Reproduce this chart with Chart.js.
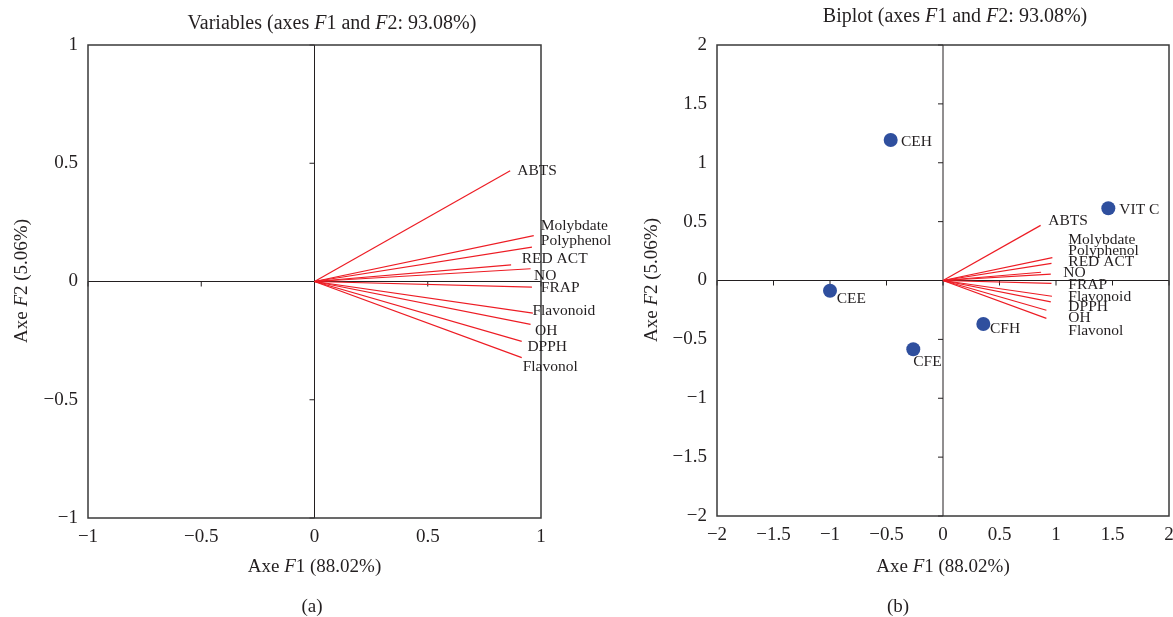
<!DOCTYPE html>
<html>
<head>
<meta charset="utf-8">
<script src="https://cdn.jsdelivr.net/npm/chart.js@4.4.1/dist/chart.umd.min.js"></script>
<style>
  html, body { margin: 0; padding: 0; background: #fff; overflow: hidden; }
  #wrap { position: relative; width: 1173px; height: 617px; overflow: hidden; }
  canvas { position: absolute; top: 0; }
  #leftChart { left: 0; }
  #rightChart { left: 580px; }
</style>
</head>
<body>
<div id="wrap">
  <canvas id="leftChart" width="640" height="617"></canvas>
  <canvas id="rightChart" width="600" height="617"></canvas>
</div>
<script>
// variable loadings on F1 / F2
const variableNames = ['ABTS', 'Molybdate', 'Polyphenol', 'RED ACT', 'NO', 'FRAP', 'Flavonoid', 'OH', 'DPPH', 'Flavonol'];
const f1Loadings = [0.864, 0.968, 0.960, 0.868, 0.954, 0.960, 0.964, 0.954, 0.915, 0.915];
const f2Loadings = [0.468, 0.194, 0.145, 0.070, 0.054, -0.024, -0.134, -0.181, -0.253, -0.322];

// observation scores on F1 / F2
const obsNames = ['CEH', 'VIT C', 'CEE', 'CFH', 'CFE'];
const obsF1 = [-0.463, 1.463, -1.00, 0.357, -0.263];
const obsF2 = [1.193, 0.613, -0.087, -0.369, -0.584];

// axis ticks
const leftTicks = [-1, -0.5, 0, 0.5, 1];
const rightTicks = [-2, -1.5, -1, -0.5, 0, 0.5, 1, 1.5, 2];

const SERIF = "'Liberation Serif', 'Times New Roman', serif";
const INK = '#231f20';
const RED = '#ed1c24';
const BLUE = '#2f4f9e';

// where the text labels sit (data units, left edge / middle of text)
const leftVarLabelPos = [
    [0.895, 0.468], [0.999, 0.236], [0.999, 0.173], [0.915, 0.094], [0.969, 0.025],
    [0.999, -0.029], [0.962, -0.125], [0.974, -0.208], [0.940, -0.276], [0.919, -0.363]
];
const rightVarLabelPos = [
    [0.932, 0.508], [1.109, 0.344], [1.109, 0.250], [1.109, 0.159], [1.065, 0.066],
    [1.109, -0.038], [1.109, -0.137], [1.109, -0.320], [1.109, -0.227], [1.109, -0.426]
];
const obsLabelPos = [
    [-0.372, 1.174], [1.560, 0.599], [-0.941, -0.157], [0.416, -0.414], [-0.263, -0.695]
];

function fmtTick(v) {
    if (v === 0) return '0';
    return (v < 0 ? '\u2212' : '') + Math.abs(v);
}

// text with italic pieces, centred on x
function drawRich(ctx, parts, x, y, size) {
    const widths = parts.map(p => {
        ctx.font = (p[1] ? 'italic ' : '') + size + 'px ' + SERIF;
        return ctx.measureText(p[0]).width;
    });
    let cx = x - widths.reduce((a, b) => a + b, 0) / 2;
    ctx.textAlign = 'left';
    ctx.textBaseline = 'middle';
    parts.forEach((p, i) => {
        ctx.font = (p[1] ? 'italic ' : '') + size + 'px ' + SERIF;
        ctx.fillText(p[0], cx, y);
        cx += widths[i];
    });
}

const pcaFrame = {
    id: 'pcaFrame',
    beforeDatasetsDraw(chart) {
        const { ctx, chartArea: a, scales: { x, y } } = chart;
        const x0 = x.getPixelForValue(0);
        const y0 = y.getPixelForValue(0);
        ctx.save();
        ctx.strokeStyle = INK;
        ctx.lineWidth = 1;
        ctx.beginPath();
        ctx.moveTo(x0, a.top); ctx.lineTo(x0, a.bottom);
        ctx.moveTo(a.left, y0); ctx.lineTo(a.right, y0);
        x.ticks.forEach(t => {
            const px = x.getPixelForValue(t.value);
            ctx.moveTo(px, y0); ctx.lineTo(px, y0 + 5);
        });
        y.ticks.forEach(t => {
            const py = y.getPixelForValue(t.value);
            ctx.moveTo(x0 - 5, py); ctx.lineTo(x0, py);
        });
        ctx.stroke();
        ctx.restore();
    },
    afterDatasetsDraw(chart, args, opts) {
        const { ctx, chartArea: a, scales: { x, y } } = chart;
        ctx.save();
        ctx.strokeStyle = '#3a3a3a';
        ctx.lineWidth = 1.5;
        ctx.strokeRect(a.left, a.top, a.width, a.height);

        ctx.fillStyle = INK;
        ctx.font = '15.5px ' + SERIF;
        ctx.textAlign = 'left';
        ctx.textBaseline = 'middle';
        (opts.labels || []).forEach(l => {
            ctx.fillText(l.text, x.getPixelForValue(l.x), y.getPixelForValue(l.y));
        });
        ctx.restore();
    },
    afterDraw(chart, args, opts) {
        const ctx = chart.ctx;
        ctx.save();
        ctx.fillStyle = INK;
        drawRich(ctx, opts.title.parts, opts.title.x, opts.title.y, 20);
        drawRich(ctx, opts.xTitle.parts, opts.xTitle.x, opts.xTitle.y, 19);
        drawRich(ctx, [[opts.caption.text, false]], opts.caption.x, opts.caption.y, 19);
        ctx.translate(opts.yTitle.x, opts.yTitle.y);
        ctx.rotate(-Math.PI / 2);
        drawRich(ctx, opts.yTitle.parts, 0, 0, 19);
        ctx.restore();
    }
};

function axisCfg(ticks, fitSize, isX) {
    return {
        type: 'linear',
        min: ticks[0],
        max: ticks[ticks.length - 1],
        grid: { display: false, drawTicks: false },
        border: { display: false },
        afterBuildTicks(s) { s.ticks = ticks.map(v => ({ value: v })); },
        ticks: {
            autoSkip: false,
            maxRotation: 0,
            padding: isX ? 8 : 10,
            color: INK,
            font: { family: SERIF, size: 19 },
            callback: v => fmtTick(v)
        },
        afterFit(s) {
            if (isX) s.height = fitSize; else s.width = fitSize;
            s.paddingLeft = 0; s.paddingRight = 0;
            s.paddingTop = 0; s.paddingBottom = 0;
        }
    };
}

function vectorSets() {
    return variableNames.map((name, i) => ({
        label: name,
        showLine: true,
        data: [{ x: 0, y: 0 }, { x: f1Loadings[i], y: f2Loadings[i] }],
        borderColor: RED,
        borderWidth: 1.2,
        pointRadius: 0,
        fill: false
    }));
}

const xTitleParts = [['Axe ', false], ['F', true], ['1 (88.02%)', false]];
const yTitleParts = [['Axe ', false], ['F', true], ['2 (5.06%)', false]];

function commonOptions(padRight) {
    return {
        responsive: false,
        animation: false,
        devicePixelRatio: 1,
        layout: { padding: { top: 45, right: padRight, bottom: 0, left: 0 } },
        plugins: { legend: { display: false }, tooltip: { enabled: false } },
        scales: {}
    };
}

// (a) variables
const leftOpts = commonOptions(99);
leftOpts.scales = { x: axisCfg(leftTicks, 99, true), y: axisCfg(leftTicks, 88, false) };
leftOpts.plugins.pcaFrame = {
    title: { parts: [['Variables (axes ', false], ['F', true], ['1 and ', false], ['F', true], ['2: 93.08%)', false]], x: 332, y: 24 },
    xTitle: { parts: xTitleParts, x: 314.5, y: 567 },
    yTitle: { parts: yTitleParts, x: 22, y: 281 },
    caption: { text: '(a)', x: 312, y: 607 },
    labels: variableNames.map((n, i) => ({ text: n, x: leftVarLabelPos[i][0], y: leftVarLabelPos[i][1] }))
};

new Chart(document.getElementById('leftChart'), {
    type: 'scatter',
    data: { datasets: vectorSets() },
    options: leftOpts,
    plugins: [pcaFrame]
});

// (b) biplot, canvas starts at page x = 580
const rightOpts = commonOptions(11);
rightOpts.scales = { x: axisCfg(rightTicks, 101, true), y: axisCfg(rightTicks, 137, false) };
rightOpts.plugins.pcaFrame = {
    title: { parts: [['Biplot (axes ', false], ['F', true], ['1 and ', false], ['F', true], ['2: 93.08%)', false]], x: 375, y: 17 },
    xTitle: { parts: xTitleParts, x: 363, y: 567 },
    yTitle: { parts: yTitleParts, x: 72, y: 280 },
    caption: { text: '(b)', x: 318, y: 607 },
    labels: variableNames.map((n, i) => ({ text: n, x: rightVarLabelPos[i][0], y: rightVarLabelPos[i][1] }))
        .concat(obsNames.map((n, i) => ({ text: n, x: obsLabelPos[i][0], y: obsLabelPos[i][1] })))
};

new Chart(document.getElementById('rightChart'), {
    type: 'scatter',
    data: {
        datasets: vectorSets().concat([{
            label: 'Observations',
            data: obsNames.map((n, i) => ({ x: obsF1[i], y: obsF2[i] })),
            backgroundColor: BLUE,
            borderWidth: 0,
            pointRadius: 7
        }])
    },
    options: rightOpts,
    plugins: [pcaFrame]
});
</script>
</body>
</html>
